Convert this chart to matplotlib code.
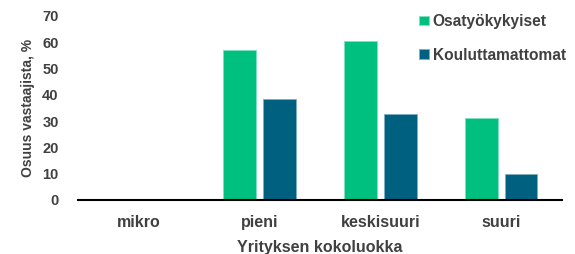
import numpy as np
import matplotlib
matplotlib.use("Agg")
from matplotlib import pyplot as plt

plt.rcParams['font.family'] = ['Liberation Sans', 'DejaVu Sans']
plt.rcParams['font.weight'] = 'bold'

categories = ["mikro", "pieni", "keskisuuri", "suuri"]
osatyokykyiset = [0, 57, 60.4, 31.3]
kouluttamattomat = [0, 38.5, 32.8, 10.0]

green = "#00C07F"
blue = "#00607F"
txt = "#404040"

fig = plt.figure(figsize=(5.75, 2.54), dpi=100)
ax = fig.add_axes([0.1357, 0.2126, 0.8413, 0.7254])

x = np.arange(len(categories))
w = 0.27
ax.bar(x - 0.164, osatyokykyiset, w, color=green, edgecolor="#7fe0bf", linewidth=0.6,
       label="Osatyökykyiset")
ax.bar(x + 0.164, kouluttamattomat, w, color=blue, edgecolor="#7fb0bf", linewidth=0.6,
       label="Kouluttamattomat")

ax.set_xlim(-0.5, 3.5)
ax.set_ylim(0, 70)
ax.set_yticks(range(0, 71, 10))
ax.set_xticks(x)
ax.set_xticklabels(categories)
ax.tick_params(length=0, colors=txt)
ax.tick_params(axis='y', pad=14, labelsize=10.5)
ax.tick_params(axis='x', pad=11, labelsize=11.5)
for s in ["top", "right", "left"]:
    ax.spines[s].set_visible(False)
ax.spines["bottom"].set_linewidth(1.5)
ax.spines["bottom"].set_color("black")

ax.set_ylabel("Osuus vastaajista, %", fontsize=10, color=txt, fontweight='bold', labelpad=5)
ax.set_xlabel("Yrityksen kokoluokka", fontsize=11.5, color=txt, fontweight='bold', labelpad=7)

leg = ax.legend(loc="upper left", bbox_to_anchor=(0.705, 1.0), bbox_transform=fig.transFigure,
                frameon=False, handlelength=0.6, handleheight=0.6, handletextpad=0.25,
                labelspacing=1.2, prop={'size': 11.2, 'weight': 'bold'})
for t in leg.get_texts():
    t.set_color(txt)

fig.savefig("out.png", dpi=100)
